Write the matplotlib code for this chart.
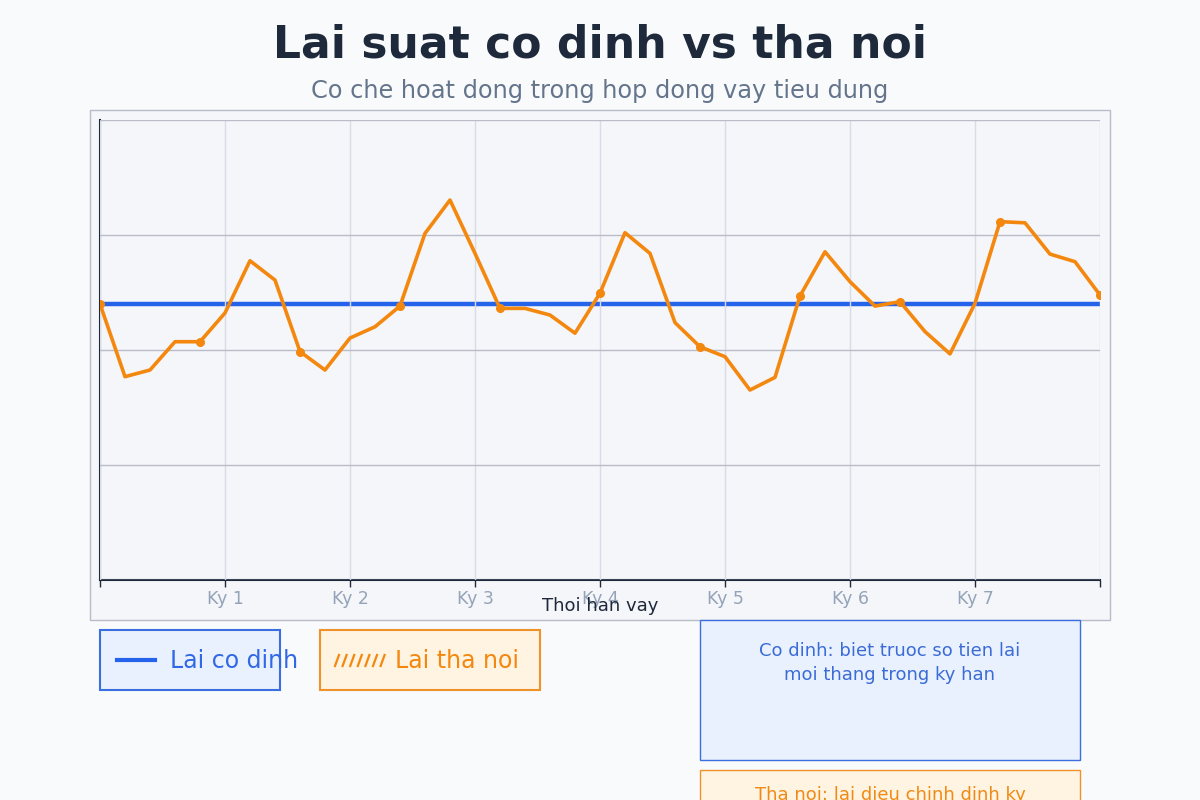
import matplotlib
matplotlib.use("Agg")
import matplotlib.pyplot as plt
from matplotlib.patches import Rectangle
from matplotlib.lines import Line2D

# ---- data ----
x_positions = [i * 0.2 for i in range(41)]
fixed_rate = [12.0] * 41
floating_rate = [12.0, 8.84, 9.13, 10.36, 10.36, 11.61, 13.88, 13.04, 9.93, 9.13,
                 10.52, 11.01, 11.91, 15.07, 16.52, 14.20, 11.81, 11.81, 11.52, 10.73,
                 12.47, 15.10, 14.20, 11.19, 10.14, 9.71, 8.26, 8.81, 12.35, 14.27,
                 12.97, 11.91, 12.10, 10.80, 9.83, 12.03, 15.58, 15.53, 14.17, 13.84,
                 12.39]
tick_positions = [0, 1, 2, 3, 4, 5, 6, 7, 8]
tick_labels = ["", "Ky 1", "Ky 2", "Ky 3", "Ky 4", "Ky 5", "Ky 6", "Ky 7", ""]
title = "Lai suat co dinh vs tha noi"
subtitle = "Co che hoat dong trong hop dong vay tieu dung"
xlabel = "Thoi han vay"
legend_fixed = "Lai co dinh"
legend_float = "Lai tha noi"
note_fixed = "Co dinh: biet truoc so tien lai\nmoi thang trong ky han"
note_float = "Tha noi: lai dieu chinh dinh ky"

BLUE = "#2563eb"
ORANGE = "#f4880f"
DARK = "#1e293b"

fig = plt.figure(figsize=(12, 8), dpi=100)
fig.patch.set_facecolor("#f8fafc")

# background / decoration axes in pixel coordinates
bg = fig.add_axes([0, 0, 1, 1], zorder=0)
bg.set_xlim(0, 1200)
bg.set_ylim(800, 0)
bg.axis("off")

bg.add_patch(Rectangle((90, 110), 1020, 510, facecolor="#f5f6fa", edgecolor="#b6bcc8", lw=1))

# legend boxes
bg.add_patch(Rectangle((100, 630), 180, 60, facecolor="#e9f1fe", edgecolor="#3b6fe0", lw=1.5))
bg.add_line(Line2D([117, 155], [660, 660], color=BLUE, lw=3))
bg.text(170, 661, legend_fixed, fontsize=17, color="#3068e6", va="center", ha="left")

bg.add_patch(Rectangle((320, 630), 220, 60, facecolor="#fff3e2", edgecolor="#f0922a", lw=1.5))
for k in range(7):
    x0 = 335 + k * 7.6
    bg.add_line(Line2D([x0, x0 + 4], [666, 655], color=ORANGE, lw=1.6))
bg.text(395, 661, legend_float, fontsize=17, color=ORANGE, va="center", ha="left")

# note boxes
bg.add_patch(Rectangle((700, 620), 380, 140, facecolor="#e9f1fe", edgecolor="#3b6fe0", lw=1))
bg.text(890, 642, note_fixed, fontsize=13, color="#3a6bd6", va="top", ha="center",
        linespacing=1.45)
bg.add_patch(Rectangle((700, 770), 380, 60, facecolor="#fff3e2", edgecolor="#f0922a", lw=1))
bg.text(890, 786, note_float, fontsize=13, color="#f08a14", va="top", ha="center")

# titles
fig.text(0.5, 1 - 45 / 800, title, fontsize=31.7, fontweight="bold", color=DARK,
         ha="center", va="center")
fig.text(0.5, 1 - 91 / 800, subtitle, fontsize=17.3, color="#64748b", ha="center", va="center")

# main axes
ax = fig.add_axes([100 / 1200, 220 / 800, 1000 / 1200, 460 / 800], zorder=1)
ax.set_facecolor("#f5f6fa")
ax.plot(x_positions, fixed_rate, color=BLUE, lw=3.2, zorder=2)
ax.plot(x_positions, floating_rate, color=ORANGE, lw=2.6, marker="o", markersize=5.5,
        markevery=4, zorder=3)

ax.set_xlim(0, 8)
ax.set_ylim(0, 20)
ax.set_xticks(tick_positions)
ax.set_xticklabels(tick_labels)
ax.set_yticks([0, 5, 10, 15, 20])
ax.tick_params(axis="y", left=False, labelleft=False)
ax.tick_params(axis="x", length=5, width=1, color=DARK, labelsize=12.5,
               labelcolor="#94a3b8", pad=2)
ax.set_axisbelow(False)
ax.grid(axis="x", color="#d8dce4", lw=1, zorder=2.5)
ax.grid(axis="y", color="#b9bdc9", lw=1, zorder=1)
for side in ["top", "right"]:
    ax.spines[side].set_visible(False)
for side in ["left", "bottom"]:
    ax.spines[side].set_color(DARK)
    ax.spines[side].set_linewidth(1.5)
ax.set_xlabel(xlabel, fontsize=13, color=DARK, labelpad=-7.7)

fig.savefig("out.png", dpi=100, facecolor=fig.get_facecolor())
